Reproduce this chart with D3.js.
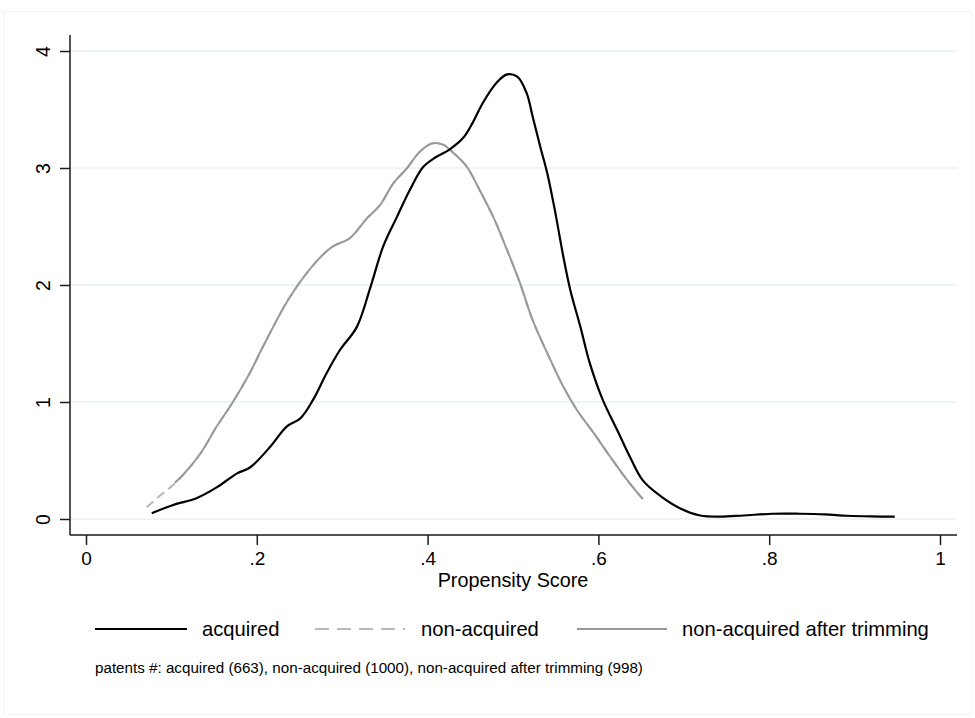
<!DOCTYPE html>
<html>
<head>
<meta charset="utf-8">
<script src="https://cdn.jsdelivr.net/npm/d3@7"></script>
<style>
  html, body { margin: 0; padding: 0; background: #fff; }
  svg { display: block; font-family: Arial, "Liberation Sans", sans-serif; }
</style>
</head>
<body>
<svg id="chart" width="975" height="718"></svg>
<script>
// Kernel density of propensity scores (x = score, y = density)
const acquiredX = [0.077,0.102,0.130,0.153,0.177,0.192,0.216,0.235,0.251,0.266,0.282,0.297,0.317,0.333,0.348,0.364,0.379,0.395,0.409,0.426,0.442,0.453,0.465,0.481,0.493,0.505,0.516,0.523,0.532,0.540,0.549,0.559,0.567,0.579,0.590,0.605,0.622,0.637,0.652,0.672,0.696,0.719,0.742,0.770,0.804,0.836,0.865,0.891,0.920,0.947];
const acquiredY = [0.05,0.12,0.18,0.27,0.39,0.44,0.62,0.79,0.86,1.02,1.25,1.44,1.64,1.98,2.33,2.58,2.81,3.01,3.09,3.16,3.26,3.39,3.56,3.73,3.80,3.78,3.64,3.44,3.18,2.96,2.64,2.24,1.96,1.64,1.33,1.02,0.76,0.53,0.33,0.20,0.09,0.03,0.02,0.03,0.045,0.045,0.04,0.028,0.022,0.02];

const nonAcqX = [0.071,0.090,0.102,0.114,0.134,0.153,0.172,0.192,0.207,0.239,0.271,0.289,0.309,0.329,0.344,0.360,0.376,0.391,0.405,0.418,0.430,0.446,0.461,0.477,0.493,0.508,0.523,0.540,0.559,0.575,0.594,0.614,0.634,0.652];
const nonAcqY = [0.10,0.22,0.29,0.38,0.56,0.79,1.00,1.25,1.47,1.90,2.21,2.33,2.40,2.57,2.68,2.87,3.00,3.14,3.21,3.20,3.13,3.01,2.81,2.58,2.30,2.02,1.70,1.42,1.13,0.93,0.74,0.53,0.33,0.17];

const trimmedX = [0.104,0.114,0.134,0.153,0.172,0.192,0.207,0.239,0.271,0.289,0.309,0.329,0.344,0.360,0.376,0.391,0.405,0.418,0.430,0.446,0.461,0.477,0.493,0.508,0.523,0.540,0.559,0.575,0.594,0.614,0.634,0.652];
const trimmedY = [0.31,0.38,0.56,0.79,1.00,1.25,1.47,1.90,2.21,2.33,2.40,2.57,2.68,2.87,3.00,3.14,3.21,3.20,3.13,3.01,2.81,2.58,2.30,2.02,1.70,1.42,1.13,0.93,0.74,0.53,0.33,0.17];

const xTicks = [0, 0.2, 0.4, 0.6, 0.8, 1];
const xTickLabels = ["0", ".2", ".4", ".6", ".8", "1"];
const yTicks = [0, 1, 2, 3, 4];

const seriesNames = ["acquired", "non-acquired", "non-acquired after trimming"];
const noteText = "patents #: acquired (663), non-acquired (1000), non-acquired after trimming (998)";

const svg = d3.select("#chart");

// faint outer frame of the graph region
svg.append("rect")
  .attr("x", 3.5).attr("y", 11.5).attr("width", 968).attr("height", 703)
  .attr("fill", "none").attr("stroke", "#f2f4f4").attr("stroke-width", 1);

const plotLeft = 70, plotRight = 957, plotTop = 35, plotBottom = 535;

const x = d3.scaleLinear().domain([0, 1]).range([86, 940]);
const y = d3.scaleLinear().domain([0, 4]).range([519, 51]);

// horizontal grid lines
svg.append("g").selectAll("line").data(yTicks).join("line")
  .attr("x1", plotLeft).attr("x2", plotRight)
  .attr("y1", d => y(d)).attr("y2", d => y(d))
  .attr("stroke", "#eaf2f3").attr("stroke-width", 1.5);

// y axis
const yAxis = svg.append("g")
  .attr("transform", `translate(${plotLeft},0)`)
  .call(d3.axisLeft(y).tickValues(yTicks).tickSize(10).tickPadding(0).tickFormat(d3.format("d")));
yAxis.select(".domain").attr("d", `M0,${plotTop}V${plotBottom}`).attr("stroke", "#1a1a1a").attr("stroke-width", 1.5);
yAxis.selectAll(".tick line").attr("stroke", "#1a1a1a").attr("stroke-width", 1.5);
yAxis.selectAll(".tick text")
  .attr("x", 0).attr("dy", 0)
  .attr("transform", "translate(-20,0) rotate(-90)")
  .attr("text-anchor", "middle")
  .attr("font-size", 19.5).attr("fill", "#000")
  .attr("font-family", "Arial, 'Liberation Sans', sans-serif");

// x axis
const xAxis = svg.append("g")
  .attr("transform", `translate(0,${plotBottom})`)
  .call(d3.axisBottom(x).tickValues(xTicks).tickSize(10).tickPadding(7).tickFormat((d, i) => xTickLabels[i]));
xAxis.select(".domain").attr("d", `M${plotLeft},0H${plotRight}`).attr("stroke", "#1a1a1a").attr("stroke-width", 1.5);
xAxis.selectAll(".tick line").attr("stroke", "#1a1a1a").attr("stroke-width", 1.5);
xAxis.selectAll(".tick text")
  .attr("font-size", 19).attr("fill", "#000")
  .attr("font-family", "Arial, 'Liberation Sans', sans-serif");

svg.append("text")
  .attr("x", 513).attr("y", 587)
  .attr("text-anchor", "middle")
  .attr("font-size", 19.8).attr("fill", "#000")
  .text("Propensity Score");

// density curves
const line = d3.line().x(d => x(d[0])).y(d => y(d[1])).curve(d3.curveCatmullRom.alpha(0.5));
const zip = (xs, ys) => xs.map((v, i) => [v, ys[i]]);

const styles = [
  { color: "#000000", dash: null, width: 2.2 },
  { color: "#b8b8b8", dash: "9,5", width: 2 },
  { color: "#999999", dash: null, width: 2 }
];

const curves = [zip(nonAcqX, nonAcqY), zip(trimmedX, trimmedY), zip(acquiredX, acquiredY)];
const curveStyles = [styles[1], styles[2], styles[0]];
svg.append("g").selectAll("path").data(curves).join("path")
  .attr("d", line)
  .attr("fill", "none")
  .attr("stroke", (d, i) => curveStyles[i].color)
  .attr("stroke-width", (d, i) => curveStyles[i].width)
  .attr("stroke-dasharray", (d, i) => curveStyles[i].dash)
  .attr("stroke-linejoin", "round");

// legend
const legendItems = [
  { x0: 95, x1: 187, tx: 202 },
  { x0: 315, x1: 405, tx: 421 },
  { x0: 577, x1: 667, tx: 682 }
];
const lg = svg.append("g").selectAll("g").data(seriesNames).join("g");
lg.append("line")
  .attr("x1", (d, i) => legendItems[i].x0).attr("x2", (d, i) => legendItems[i].x1)
  .attr("y1", 629).attr("y2", 629)
  .attr("stroke", (d, i) => styles[i].color)
  .attr("stroke-width", (d, i) => styles[i].width)
  .attr("stroke-dasharray", (d, i) => i === 1 ? "14,8" : null);
lg.append("text")
  .attr("x", (d, i) => legendItems[i].tx).attr("y", 636)
  .attr("font-size", 20.2).attr("fill", "#000")
  .text(d => d);

svg.append("text")
  .attr("x", 95).attr("y", 673)
  .attr("font-size", 15.2).attr("fill", "#000")
  .text(noteText);
</script>
</body>
</html>
